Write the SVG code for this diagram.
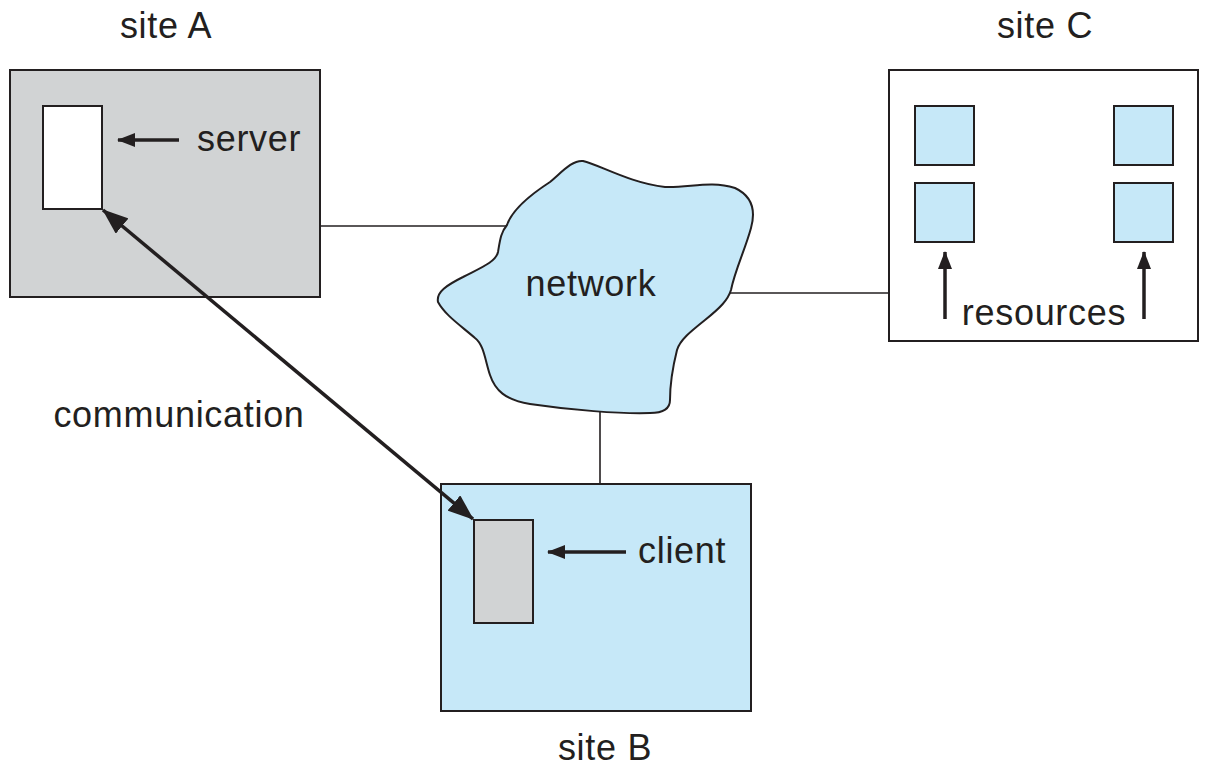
<svg xmlns="http://www.w3.org/2000/svg" width="1206" height="770" viewBox="0 0 1206 770">
<style>
text{font-family:"Liberation Sans",Arial,sans-serif;font-size:36px;letter-spacing:0.7px;fill:#231f20}
.box{stroke:#231f20;stroke-width:2}
.gray{fill:#d1d3d4}
.blue{fill:#c6e8f8}
.white{fill:#ffffff}
.link{stroke:#231f20;stroke-width:1.6;fill:none}
.arr{stroke:#231f20;stroke-width:3.5;fill:none}
</style>
<defs>
<marker id="ah" markerUnits="userSpaceOnUse" markerWidth="18" markerHeight="14" refX="17" refY="7" orient="auto-start-reverse" viewBox="0 0 18 14">
<path d="M0,0 L18,7 L0,14 Z" fill="#231f20"/>
</marker>
<marker id="ahBig" markerUnits="userSpaceOnUse" markerWidth="26" markerHeight="20" refX="25" refY="10" orient="auto-start-reverse" viewBox="0 0 26 20">
<path d="M0,0 L26,10 L0,20 Z" fill="#231f20"/>
</marker>
</defs>
<g id="connectors">
<line class="link" x1="320" y1="226" x2="507" y2="226"/>
<line class="link" x1="729" y1="293" x2="889" y2="293"/>
<line class="link" x1="600" y1="412" x2="600" y2="485"/>
</g>
<g id="siteA">
<rect class="box gray" x="10" y="70" width="310" height="227"/>
<rect id="server" class="box white" x="43" y="106" width="59" height="103"/>
<line class="arr" x1="179" y1="140" x2="118" y2="140" marker-end="url(#ah)"/>
<text x="197" y="151">server</text>
<text x="166" y="38" text-anchor="middle">site A</text>
</g>
<g id="network">
<path class="box blue" d="M507,225 C512,210 530,195 550,182 C562,172 572,160 583,161 C600,165 630,183 665,187 C690,188 710,180 735,188 C752,196 756,210 751,228 C745,250 735,270 731,290 C728,300 720,308 705,320 C690,332 680,340 677,350 C672,370 670,390 670,400 C670,410 662,413 650,413 C620,414 570,410 530,404 C505,400 495,390 490,375 C485,360 484,345 475,338 C460,325 445,315 438,302 C436,292 447,285 463,277 C480,268 496,262 498,252 C500,240 501,232 507,225 Z"/>
<text x="591" y="296" text-anchor="middle">network</text>
</g>
<g id="siteB">
<rect class="box blue" x="441" y="484" width="310" height="227"/>
<rect id="client" class="box gray" x="474" y="520" width="59" height="103"/>
<line class="arr" x1="626" y1="552" x2="548" y2="552" marker-end="url(#ah)"/>
<text x="638" y="563">client</text>
<text x="605" y="760" text-anchor="middle">site B</text>
</g>
<g id="siteC">
<rect class="box white" x="889" y="70" width="309" height="271"/>
<rect class="box blue" x="915" y="106" width="59" height="59"/>
<rect class="box blue" x="915" y="183" width="59" height="59"/>
<rect class="box blue" x="1114" y="106" width="59" height="59"/>
<rect class="box blue" x="1114" y="183" width="59" height="59"/>
<line class="arr" x1="945" y1="319" x2="945" y2="252" marker-end="url(#ah)"/>
<line class="arr" x1="1144" y1="319" x2="1144" y2="252" marker-end="url(#ah)"/>
<text x="1044" y="325" text-anchor="middle">resources</text>
<text x="1045" y="38" text-anchor="middle">site C</text>
</g>
<g id="communication">
<line class="arr" x1="103" y1="210" x2="473" y2="519" marker-start="url(#ahBig)" marker-end="url(#ahBig)"/>
<text x="179" y="427" text-anchor="middle">communication</text>
</g>
</svg>
